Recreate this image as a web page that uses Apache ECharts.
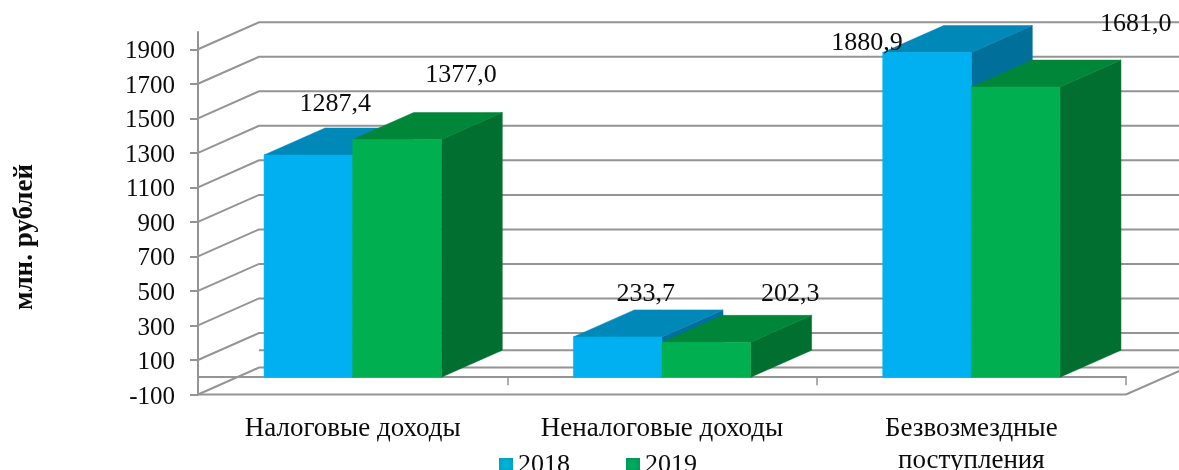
<!DOCTYPE html>
<html><head><meta charset="utf-8">
<script src="https://cdn.jsdelivr.net/npm/echarts@6/dist/echarts.min.js"></script>
<style>html,body{margin:0;padding:0;background:#fff}#c{width:1179px;height:470px}</style>
</head><body><div id="c"></div>
<script>
const categories = ['Налоговые доходы', 'Неналоговые доходы', 'Безвозмездные\nпоступления'];
const values2018 = [1287.4, 233.7, 1880.9];
const values2019 = [1377.0, 202.3, 1681.0];
const tickValues = [-100, 100, 300, 500, 700, 900, 1100, 1300, 1500, 1700, 1900];
const backOnlyLevels = [0];

const DX = 61, DY = -27, BAR_FRAC = 0.2865;
const FONT = '"Liberation Serif", "Times New Roman", serif';
const GRID_COLOR = '#949494', TEXT = '#0c0c0c';
// hand-placed label offsets from the front-top centre of each bar
const offsets2018 = [[27, -50.5], [28, -43], [-60, -9]];
const offsets2019 = [[64, -64.5], [84, -48], [120, -63]];

function radial(inner, outer) {
  return { type: 'radial', x: 0.5, y: 0.5, r: 0.7, colorStops: [{ offset: 0, color: inner }, { offset: 1, color: outer }] };
}

function bar3d(sign, colors, offsets) {
  return function (params, api) {
    const i = api.value(0), v = api.value(1);
    const top = api.coord([i, v]), base = api.coord([i, 0]);
    const w = api.size([1, 0])[0] * BAR_FRAC;
    const x0 = sign < 0 ? top[0] - w : top[0], x1 = x0 + w;
    const yT = top[1], yB = base[1];
    const poly = (pts, fill) => ({ type: 'polygon', shape: { points: pts }, style: { fill: fill, stroke: fill, lineWidth: 0.5 } });
    const off = offsets[params.dataIndex];
    return {
      type: 'group',
      children: [
        poly([[x1, yB], [x1 + DX, yB + DY], [x1 + DX, yT + DY], [x1, yT]], colors[2]),
        poly([[x0, yT], [x0 + DX, yT + DY], [x1 + DX, yT + DY], [x1, yT]], colors[1]),
        poly([[x0, yB], [x1, yB], [x1, yT], [x0, yT]], colors[0]),
        {
          type: 'text', z2: 50,
          style: {
            x: (x0 + x1) / 2 + off[0], y: yT + off[1],
            text: v.toFixed(1).replace('.', ','),
            font: '26px ' + FONT, fill: TEXT, align: 'center', verticalAlign: 'middle'
          }
        }
      ]
    };
  };
}

function walls(params, api) {
  const v = api.value(0);
  const band = api.size([1, 0])[0];
  const p = api.coord([0, v]);
  const xL = p[0] - band / 2;
  const xR = api.coord([categories.length - 1, v])[0] + band / 2;
  const style = { fill: 'none', stroke: GRID_COLOR, lineWidth: 2 };
  if (api.value(1) === 1) {
    return { type: 'polyline', shape: { points: [[xL + DX, p[1] + DY], [xR + DX, p[1] + DY]] }, style: style };
  }
  const pts = [[xL, p[1]], [xL + DX, p[1] + DY], [xR + DX, p[1] + DY]];
  const children = [{ type: 'polyline', shape: { points: pts }, style: style }];
  if (v === tickValues[0]) {
    children.push({ type: 'polyline', shape: { points: [[xL, p[1]], [xR, p[1]], [xR + DX, p[1] + DY]] }, style: style });
  }
  return { type: 'group', children: children };
}

const chart = echarts.init(document.getElementById('c'), null, { renderer: 'canvas' });
chart.setOption({
  animation: false,
  backgroundColor: '#fff',
  grid: { left: 198, right: 53, top: 32, bottom: 75.5, containLabel: false, outerBoundsMode: 'none' },
  graphic: [{
    type: 'text', x: 25, y: 237, rotation: Math.PI / 2,
    style: { text: 'млн. рублей', font: 'bold 27px ' + FONT, fill: TEXT, align: 'center', verticalAlign: 'middle' }
  }],
  legend: {
    left: 494, top: 447, itemWidth: 14, itemHeight: 14, itemGap: 56, icon: 'rect',
    data: ['2018', '2019'],
    textStyle: { fontFamily: FONT, fontSize: 26, color: TEXT }
  },
  xAxis: {
    type: 'category', data: categories,
    axisLine: { show: true, onZero: true, lineStyle: { color: GRID_COLOR, width: 2 } },
    axisTick: { show: true, length: 8, alignWithLabel: false, lineStyle: { color: GRID_COLOR, width: 1.5 } },
    axisLabel: { fontFamily: FONT, fontSize: 27, color: TEXT, margin: 18, lineHeight: 32, interval: 0, hideOverlap: false },
    splitLine: { show: false }
  },
  yAxis: {
    type: 'value', min: -100, max: 2000,
    axisLine: { show: true, onZero: false, lineStyle: { color: GRID_COLOR, width: 2 } },
    axisTick: { show: true, length: 8, customValues: tickValues, lineStyle: { color: GRID_COLOR, width: 2 } },
    axisLabel: { fontFamily: FONT, fontSize: 25, color: TEXT, margin: 23, customValues: tickValues, formatter: v => String(v), verticalAlign: 'top', lineHeight: 5 },
    splitLine: { show: false }
  },
  series: [
    {
      type: 'custom', name: 'walls', z: 1, silent: true, clip: false,
      coordinateSystem: 'cartesian2d', renderItem: walls,
      encode: { y: 0 },
      data: tickValues.map(v => [v, 0]).concat(backOnlyLevels.map(v => [v, 1]))
    },
    {
      type: 'custom', name: '2018', z: 3, clip: false, renderItem: bar3d(-1, ['#00b0f0', '#0088b8', '#006f9a'], offsets2018),
      itemStyle: { color: radial('#00b8de', '#009cbc') }, encode: { x: 0, y: 1 },
      data: values2018.map((v, i) => [i, v])
    },
    {
      type: 'custom', name: '2019', z: 3, clip: false, renderItem: bar3d(1, ['#00b050', '#008638', '#006f30'], offsets2019),
      itemStyle: { color: radial('#00b060', '#009454') }, encode: { x: 0, y: 1 },
      data: values2019.map((v, i) => [i, v])
    }
  ]
});
</script></body></html>
